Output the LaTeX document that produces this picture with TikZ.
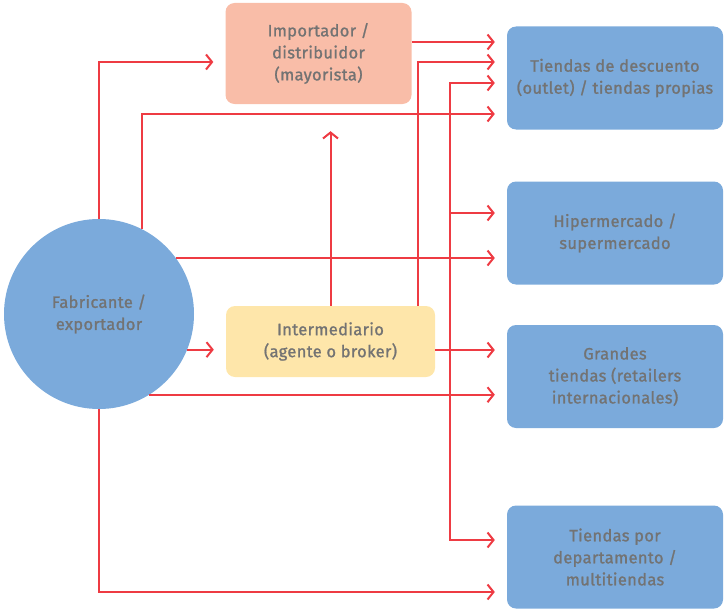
\documentclass[tikz,border=0pt]{standalone}
\usepackage{fontspec}
\setmainfont{Fira Sans}
\newfontfamily\labelfont{Fira Sans}[FakeBold=1.2,LetterSpace=2]
\usepackage{xcolor}
\usetikzlibrary{arrows.meta}

\definecolor{flowred}{HTML}{EE3B43}
\definecolor{storeblue}{HTML}{7BAADB}
\definecolor{impsalmon}{HTML}{F9BDA8}
\definecolor{interyellow}{HTML}{FEE6AA}
\definecolor{labelgrey}{HTML}{737373}

\tikzset{
  box/.style={rounded corners=9pt, text=labelgrey, align=center,
    font=\labelfont\fontsize{16.5}{22}\selectfont},
  store/.style={box, fill=storeblue, minimum width=216, minimum height=103},
  flow/.style={draw=flowred, line width=2pt,
    -{Straight Barb[length=6pt,width=15pt,line width=2pt]}, shorten >=12pt}
}

\begin{document}
\begin{tikzpicture}[x=1pt,y=-1pt]
    \useasboundingbox (0,0) rectangle (725,610);

    % Actors
    \node[circle, fill=storeblue, minimum size=190, text=labelgrey, align=center,
      font=\labelfont\fontsize{16.5}{22}\selectfont] (fab) at (99,314) {Fabricante /\\exportador};
    \node[box, fill=impsalmon, minimum width=186, minimum height=101] (imp) at (318.5,53.5)
      {Importador /\\distribuidor\\(mayorista)};
    \node[box, fill=interyellow, minimum width=209, minimum height=71] (inter) at (330.5,341.5)
      {Intermediario\\(agente o broker)};

    % Points of sale
    \node[store] (s1) at (615,78) {Tiendas de descuento\\(outlet) / tiendas propias};
    \node[store] (s2) at (615,233) {Hipermercado /\\supermercado};
    \node[store] (s3) at (615,376.5) {Grandes\\tiendas (retailers\\internacionales)};
    \node[store] (s4) at (615,557) {Tiendas por\\departamento /\\multitiendas};

    % Lane heights and vertical taps
    \foreach \n/\y in {a/42, b/62, c/83, d/114, e/213, g/350, i/540, j/592} {
        \coordinate (lane\n) at (0,\y);
    }
    \coordinate (tapR) at (418,0);
    \coordinate (bus) at (450,0);

    % From the manufacturer
    \draw[flow] (fab.north) |- (imp.west |- laneb);
    \draw[flow] (fab.63) |- (s1.west |- laned);
    \draw[flow] (fab.36) -- (fab.36 -| s2.west);
    \draw[flow] (fab.-22) -- (fab.-22 -| inter.west);
    \draw[flow] (fab.-58) -- (fab.-58 -| s3.west);
    \draw[flow] (fab.south) |- (s4.west |- lanej);

    % From the importer
    \draw[flow] (imp.east |- lanea) -- (s1.west |- lanea);

    % From the intermediary
    \draw[flow, shorten >=27pt] (inter.north) -- (inter.north |- imp.south);
    \draw[flow] (inter.north -| tapR) |- (s1.west |- laneb);
    \draw[flow] (inter.east |- laneg) -- (s3.west |- laneg);
    \draw[flow] (bus |- laneg) |- (s1.west |- lanec);
    \draw[flow] (bus |- lanee) -- (s2.west |- lanee);
    \draw[flow] (bus |- laneg) |- (s4.west |- lanei);
\end{tikzpicture}
\end{document}
